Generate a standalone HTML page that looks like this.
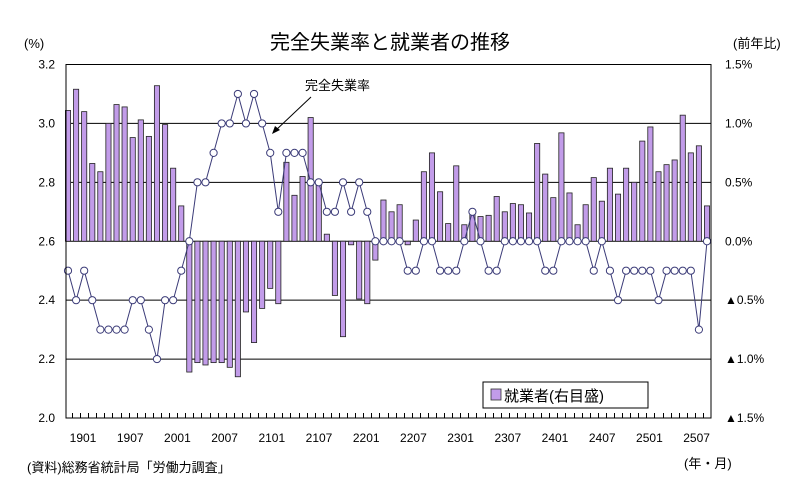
<!DOCTYPE html>
<html><head><meta charset="utf-8"><style>
html,body{margin:0;padding:0;background:#fff}
svg{display:block}
text{font-family:"Liberation Sans","Noto Sans CJK JP",sans-serif;fill:#000}
</style></head><body>
<svg id="chart" width="785" height="493" viewBox="0 0 785 493" xmlns="http://www.w3.org/2000/svg">
<text x="390" y="49" font-size="20" text-anchor="middle">完全失業率と就業者の推移</text>
<text x="24" y="48" font-size="13">(%)</text>
<text x="733" y="48" font-size="13">(前年比)</text>
<g id="grid"></g>
<g id="bars"></g>
<g id="line"></g>
<rect x="66" y="64.5" width="645" height="353.5" fill="none" stroke="#000" stroke-width="1"/>
<g id="ticks"></g>
<g id="labels"></g>
<text x="305" y="90" font-size="13">完全失業率</text>
<line x1="311" y1="97" x2="275" y2="131" stroke="#000" stroke-width="1"/>
<polygon points="272,134 275,126 280,130" fill="#000"/>
<g>
<rect x="483" y="382" width="165" height="26" fill="#fff" stroke="#000" stroke-width="1"/>
<rect x="491" y="389" width="10" height="11" fill="#c29ce9" stroke="#333" stroke-width="0.8"/>
<text x="504" y="401" font-size="15">就業者(右目盛)</text>
</g>
<text x="27" y="472" font-size="13">(資料)総務省統計局「労働力調査」</text>
<text x="684" y="468" font-size="13">(年・月)</text>
</svg>
<script>
const unemployment=[2.5,2.4,2.5,2.4,2.3,2.3,2.3,2.3,2.4,2.4,2.3,2.2,2.4,2.4,2.5,2.6,2.8,2.8,2.9,3.0,3.0,3.1,3.0,3.1,3.0,2.9,2.7,2.9,2.9,2.9,2.8,2.8,2.7,2.7,2.8,2.7,2.8,2.7,2.6,2.6,2.6,2.6,2.5,2.5,2.6,2.6,2.5,2.5,2.5,2.6,2.7,2.6,2.5,2.5,2.6,2.6,2.6,2.6,2.6,2.5,2.5,2.6,2.6,2.6,2.6,2.5,2.6,2.5,2.4,2.5,2.5,2.5,2.5,2.4,2.5,2.5,2.5,2.5,2.3,2.6];
const employed=[1.11,1.29,1.10,0.66,0.59,1.0,1.16,1.14,0.88,1.03,0.89,1.32,0.99,0.62,0.30,-1.11,-1.03,-1.05,-1.03,-1.03,-1.07,-1.15,-0.60,-0.86,-0.57,-0.40,-0.53,0.67,0.39,0.55,1.05,0.48,0.06,-0.46,-0.81,-0.03,-0.49,-0.53,-0.16,0.35,0.25,0.31,-0.03,0.18,0.59,0.75,0.42,0.15,0.64,0.14,0.24,0.21,0.22,0.38,0.25,0.32,0.31,0.24,0.83,0.57,0.37,0.92,0.41,0.14,0.31,0.54,0.34,0.62,0.40,0.62,0.50,0.85,0.97,0.59,0.65,0.69,1.07,0.75,0.81,0.30];
const xLabels=["1901","1907","2001","2007","2101","2107","2201","2207","2301","2307","2401","2407","2501","2507"];
const leftTicks=[3.2,3.0,2.8,2.6,2.4,2.2,2.0];
const rightTicks=[1.5,1.0,0.5,0.0,-0.5,-1.0,-1.5];
const NS="http://www.w3.org/2000/svg";
const X0=66,X1=711,Y0=64.5,Y1=418,N=unemployment.length;
const step=(707-68)/(N-1);
function xPos(i){return 68+step*i;}
function yL(v){return Y1-(v-2.0)/1.2*(Y1-Y0);}
function yR(v){return Y1-(v+1.5)/3.0*(Y1-Y0);}
function mk(tag,attrs,parent){const e=document.createElementNS(NS,tag);for(const k in attrs)e.setAttribute(k,attrs[k]);parent.appendChild(e);return e;}
const grid=document.getElementById('grid'),bars=document.getElementById('bars'),line=document.getElementById('line'),ticks=document.getElementById('ticks'),labels=document.getElementById('labels');
leftTicks.forEach((t,i)=>{
  const y=yL(t);
  if(i>0&&i<leftTicks.length-1){const g=mk('line',{x1:X0,x2:X1,y1:y,y2:y,stroke:'#000','stroke-width':1},grid);
  
  }
  const tx=mk('text',{x:55,y:y+4,'font-size':12,'text-anchor':'end'},labels);tx.textContent=t.toFixed(1);
  
  
});
rightTicks.forEach(t=>{
  const y=yR(t);
  const tx=mk('text',{x:725,y:y+4,'font-size':12},labels);
  tx.textContent=(t<0?'▲':'')+Math.abs(t).toFixed(1)+'%';
  
  
});
const z=yR(0);
employed.forEach((v,i)=>{
  const cx=xPos(i),y=yR(v);
  const r=mk('rect',{x:cx-2.6,y:Math.min(y,z),width:5.2,height:Math.abs(z-y),fill:'#c29ce9',stroke:'#222','stroke-width':0.8},bars);
  
  
});
let d='';unemployment.forEach((v,i)=>{d+=(i?'L':'M')+xPos(i).toFixed(1)+','+yL(v).toFixed(1);});
const p=mk('path',{d:d,fill:'none',stroke:'#3b3b78','stroke-width':1},line);


unemployment.forEach((v,i)=>{
  const c=mk('circle',{cx:xPos(i),cy:yL(v),r:3.6,fill:'#fff',stroke:'#3b3b78','stroke-width':1},line);
  
  
});
for(let i=1;i<N;i++){const x=Math.round(xPos(i)-step/2)+0.5;
  const t=mk('line',{x1:x,x2:x,y1:Y1,y2:Y1-5,stroke:'#000','stroke-width':1},ticks);
  
  }
xLabels.forEach((l,k)=>{
  const tx=mk('text',{x:83+47.2*k,y:442,'font-size':12,'text-anchor':'middle'},labels);tx.textContent=l;
  
  
});
</script>
</body></html>
